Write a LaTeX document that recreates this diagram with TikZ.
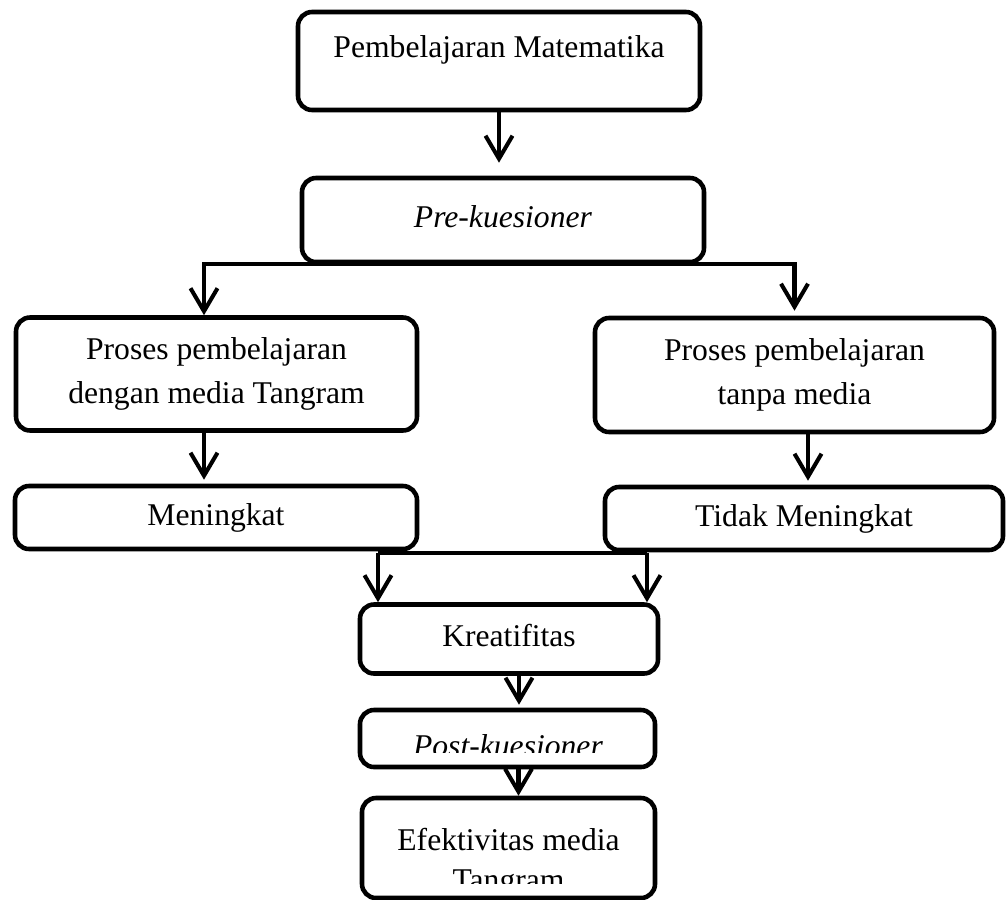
\documentclass[tikz,border=0pt]{standalone}
\usepackage{fontspec}
\setmainfont{Liberation Serif}
\usetikzlibrary{arrows.meta}

\begin{document}
\begin{tikzpicture}[
  > = {Straight Barb[length=4.6mm, width=5.4mm]},
  line width=2.3pt,
  font=\fontsize{18}{25}\selectfont,
  flow/.style={draw, rounded corners=8pt, line width=2.6pt, align=center},
  one/.style={text height=12.5pt, text depth=3.5pt},
  arr/.style={->, line width=2.3pt}
]
  \useasboundingbox (0, 0) rectangle (20.12, -17.98);

  \node[flow, one, minimum width=8.04cm, minimum height=1.96cm,
        text height=13pt, text depth=17.5pt] (mat) at (9.98, -1.22)
        {Pembelajaran Matematika};
  \node[flow, one, minimum width=8.04cm, minimum height=1.68cm]
        (pre) at (10.06, -4.40) {\textit{Pre-kuesioner}};

  \node[flow, minimum width=8.02cm, minimum height=2.26cm]
        (lproc) at (4.33, -7.48) {Proses pembelajaran\\dengan media Tangram};
  \node[flow, minimum width=7.98cm, minimum height=2.28cm]
        (rproc) at (15.89, -7.50) {Proses pembelajaran\\tanpa media};

  \node[flow, one, minimum width=8.04cm, minimum height=1.26cm]
        (ming) at (4.32, -10.35) {Meningkat};
  \node[flow, one, minimum width=7.96cm, minimum height=1.26cm]
        (tidak) at (16.08, -10.37) {Tidak Meningkat};

  \node[flow, one, minimum width=5.96cm, minimum height=1.38cm]
        (kreat) at (10.18, -12.78) {Kreatifitas};
  \node[flow, minimum width=5.90cm, minimum height=1.14cm]
        (post) at (10.15, -14.77) {};
  \node[flow, minimum width=5.86cm, minimum height=2.00cm]
        (efek) at (10.17, -16.96) {};

  % text cut off by the box, as in the source
  \begin{scope}
    \clip (7, -14.3) rectangle (13.4, -15.04);
    \node[anchor=base] (postT) at (10.16, -15.12) {\textit{Post-kuesioner}};
  \end{scope}
  \begin{scope}
    \clip (7, -16.2) rectangle (13.4, -17.66);
    \node[anchor=north, inner sep=0pt, align=center,
          font=\fontsize{18}{22.7}\selectfont]
          (efekT) at (10.17, -16.52) {Efektivitas media\\Tangram};
  \end{scope}

  \draw[arr, shorten >=0.26cm] (mat.south) -- (mat.south |- pre.north);
  \draw[arr] (pre.south) -| ([xshift=-0.25cm]lproc.north);
  \draw[arr, shorten >=0.1cm] (pre.south) -| (rproc.north);

  \draw[arr, shorten >=0.08cm] ([xshift=-0.25cm]lproc.south)
    -- ([xshift=-0.25cm]lproc.south |- ming.north);
  \draw[arr, shorten >=0.08cm] ([xshift=0.27cm]rproc.south)
    -- ([xshift=0.27cm]rproc.south |- tidak.north);

  \coordinate (jl) at (7.56, -11.06);
  \coordinate (jr) at (12.94, -11.06);
  \draw (jl) -- (jr);
  \draw[arr] (jl) -- (jl |- kreat.north);
  \draw[arr] (jr) -- (jr |- kreat.north);

  \draw[arr, shorten >=0.06cm] ([xshift=0.2cm]kreat.south)
    -- ([xshift=0.2cm]kreat.south |- post.north);
  \draw[arr] ([xshift=0.22cm]post.south)
    -- ([xshift=0.22cm]post.south |- efek.north);
\end{tikzpicture}
\end{document}
